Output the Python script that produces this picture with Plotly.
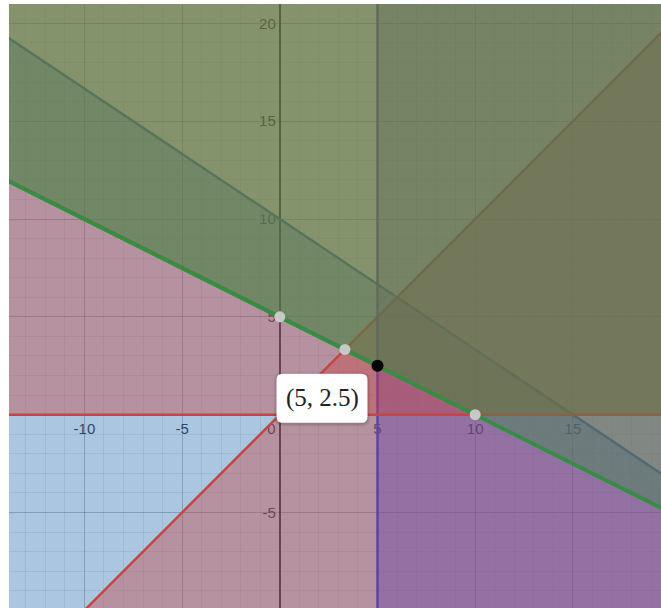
import plotly.graph_objects as go

# ---------------- data ----------------
# inequalities in drawing order, each written as a*x + b*y <= c
ineq_names = ["2x+3y<=30", "y<=x", "x>=5", "x+2y>=10 {y>=0}", "y>=0", "x+2y>=10"]
ineq_a = [2, -1, -1, -1, 0, -1]
ineq_b = [3, 1, 0, -2, -1, -2]
ineq_c = [30, 0, -5, -10, 0, -10]
# optional domain restriction for each expression (a*x + b*y <= c), None = none
restr_a = [None, None, None, 0, None, None]
restr_b = [None, None, None, -1, None, None]
restr_c = [None, None, None, 0, None, None]
ineq_colors = ["#2d70b3", "#c74440", "#6042a6", "#388c46", "#c74440", "#388c46"]
ineq_widths = [2.5, 2.5, 2.5, 4.0, 2.5, 4.0]

# highlighted point
point_xy = (5, 2.5)
point_label = "(5, 2.5)"

x_ticks = [-10, -5, 0, 5, 10, 15]
x_ticktext = ["-10", "-5", "0\u00a0\u00a0\u00a0\u00a0", "5", "10", "15"]
y_ticks = [-10, -5, 5, 10, 15, 20]
y_ticktext = ["-10", "-5", "5", "10", "15", "20"]

x_range = [-13.86, 19.51]
y_range = [-9.88, 20.99]

BIG = [(-40.0, -40.0), (50.0, -40.0), (50.0, 50.0), (-40.0, 50.0)]


def clip(poly, a, b, c):
    out = []
    n = len(poly)
    for i in range(n):
        p, q = poly[i], poly[(i + 1) % n]
        fp = a * p[0] + b * p[1] - c
        fq = a * q[0] + b * q[1] - c
        if fp <= 0:
            out.append(p)
        if (fp < 0 < fq) or (fq < 0 < fp):
            t = fp / (fp - fq)
            out.append((p[0] + t * (q[0] - p[0]), p[1] + t * (q[1] - p[1])))
    return out


def line_pts(k):
    a, b, c = ineq_a[k], ineq_b[k], ineq_c[k]
    if b != 0:
        xs = [-40.0, 50.0]
        ys = [(c - a * x) / b for x in xs]
    else:
        xs = [c / a, c / a]
        ys = [-40.0, 50.0]
    if restr_a[k] is not None:
        ra, rb, rc = restr_a[k], restr_b[k], restr_c[k]
        f0 = ra * xs[0] + rb * ys[0] - rc
        f1 = ra * xs[1] + rb * ys[1] - rc
        if f0 > 0 and f1 > 0:
            return [], []
        if f0 > 0 or f1 > 0:
            t = f0 / (f0 - f1)
            mx, my = xs[0] + t * (xs[1] - xs[0]), ys[0] + t * (ys[1] - ys[0])
            if f0 > 0:
                xs, ys = [mx, xs[1]], [my, ys[1]]
            else:
                xs, ys = [xs[0], mx], [ys[0], my]
    return xs, ys


def rgba(h, al):
    h = h.lstrip("#")
    return "rgba(%d,%d,%d,%s)" % (int(h[0:2], 16), int(h[2:4], 16), int(h[4:6], 16), al)


def intersect(i, j):
    a1, b1, c1 = ineq_a[i], ineq_b[i], ineq_c[i]
    a2, b2, c2 = ineq_a[j], ineq_b[j], ineq_c[j]
    d = a1 * b2 - a2 * b1
    return ((c1 * b2 - c2 * b1) / d, (a1 * c2 - a2 * c1) / d)


fig = go.Figure()
for k in range(len(ineq_a)):
    poly = clip(BIG, ineq_a[k], ineq_b[k], ineq_c[k])
    if restr_a[k] is not None:
        poly = clip(poly, restr_a[k], restr_b[k], restr_c[k])
    fig.add_trace(go.Scatter(
        x=[p[0] for p in poly] + [poly[0][0]],
        y=[p[1] for p in poly] + [poly[0][1]],
        fill="toself", fillcolor=rgba(ineq_colors[k], 0.4),
        mode="lines", line=dict(width=0), hoverinfo="skip", showlegend=False))
    lx, ly = line_pts(k)
    fig.add_trace(go.Scatter(x=lx, y=ly, mode="lines",
                             line=dict(color=ineq_colors[k], width=ineq_widths[k]),
                             hoverinfo="skip", showlegend=False))

# intersections of the selected green line with x=0 axis, y=x and y=0
sel = 5
gx, gy = [0.0], [ineq_c[sel] / ineq_b[sel]]
for j in (1, 4):
    px, py = intersect(sel, j)
    gx.append(px); gy.append(py)
fig.add_trace(go.Scatter(x=gx, y=gy, mode="markers",
                         marker=dict(size=11, color="rgba(205,205,205,0.95)",
                                     line=dict(width=0)),
                         hoverinfo="skip", showlegend=False))
fig.add_trace(go.Scatter(x=[point_xy[0]], y=[point_xy[1]], mode="markers",
                         marker=dict(size=12, color="black"),
                         hoverinfo="skip", showlegend=False))


def rounded_box(l, r, t, b, rad):
    # pixel path relative to the anchor point (positive y is up)
    return ("M %g,%g L %g,%g Q %g,%g %g,%g L %g,%g Q %g,%g %g,%g "
            "L %g,%g Q %g,%g %g,%g L %g,%g Q %g,%g %g,%g Z" % (
                l + rad, t, r - rad, t, r, t, r, t - rad,
                r, b + rad, r, b, r - rad, b,
                l + rad, b, l, b, l, b + rad,
                l, t - rad, l, t, l + rad, t))


box = (-101, -10, -8, -57)  # left, right, top, bottom in px from the point
for grow, alpha in ((3, 0.04), (2, 0.05), (1, 0.07)):
    fig.add_shape(type="path", xref="x", yref="y", xsizemode="pixel", ysizemode="pixel",
                  xanchor=point_xy[0], yanchor=point_xy[1],
                  path=rounded_box(box[0] - grow, box[1] + grow, box[2] + grow - 1,
                                   box[3] - grow - 1, 6 + grow),
                  fillcolor="rgba(0,0,0,%s)" % alpha, line=dict(width=0), layer="above")
fig.add_shape(type="path", xref="x", yref="y", xsizemode="pixel", ysizemode="pixel",
              xanchor=point_xy[0], yanchor=point_xy[1],
              path=rounded_box(*box, 6),
              fillcolor="white", line=dict(width=0), layer="above")

fig.add_annotation(x=point_xy[0], y=point_xy[1], text=point_label, showarrow=False,
                   xanchor="center", yanchor="middle",
                   xshift=(box[0] + box[1]) / 2, yshift=(box[2] + box[3]) / 2,
                   font=dict(family="Liberation Serif", size=25, color="#222"))

grid_major = "rgba(0,0,0,0.20)"
grid_minor = "rgba(0,0,0,0.08)"
tickfont = dict(family="Liberation Sans", size=15, color="rgb(45,45,45)")

xpos = (0 - y_range[0]) / (y_range[1] - y_range[0])
ypos = (0 - x_range[0]) / (x_range[1] - x_range[0])

fig.update_xaxes(range=x_range, anchor="free", position=xpos,
                 tickmode="array", tickvals=x_ticks, ticktext=x_ticktext,
                 showgrid=True, gridcolor=grid_major, gridwidth=1,
                 minor=dict(tickmode="linear", tick0=0, dtick=1, showgrid=True,
                            gridcolor=grid_minor, gridwidth=1),
                 zeroline=True, zerolinecolor="rgba(0,0,0,0.85)", zerolinewidth=1.5,
                 showline=False, ticks="", layer="below traces", tickfont=tickfont,
                 ticklabelstandoff=3, fixedrange=True)
fig.update_yaxes(range=y_range, anchor="free", position=ypos,
                 tickmode="array", tickvals=y_ticks, ticktext=y_ticktext,
                 showgrid=True, gridcolor=grid_major, gridwidth=1,
                 minor=dict(tickmode="linear", tick0=0, dtick=1, showgrid=True,
                            gridcolor=grid_minor, gridwidth=1),
                 zeroline=True, zerolinecolor="rgba(0,0,0,0.85)", zerolinewidth=1.5,
                 showline=False, ticks="", layer="below traces", tickfont=tickfont,
                 ticklabelstandoff=4, fixedrange=True)

fig.update_layout(width=661, height=608, margin=dict(l=9, r=0, t=4, b=0),
                  paper_bgcolor="white", plot_bgcolor="white", showlegend=False)

fig.write_html("out.html", config={"displayModeBar": False},
               post_script="document.body.style.margin='0px';")
